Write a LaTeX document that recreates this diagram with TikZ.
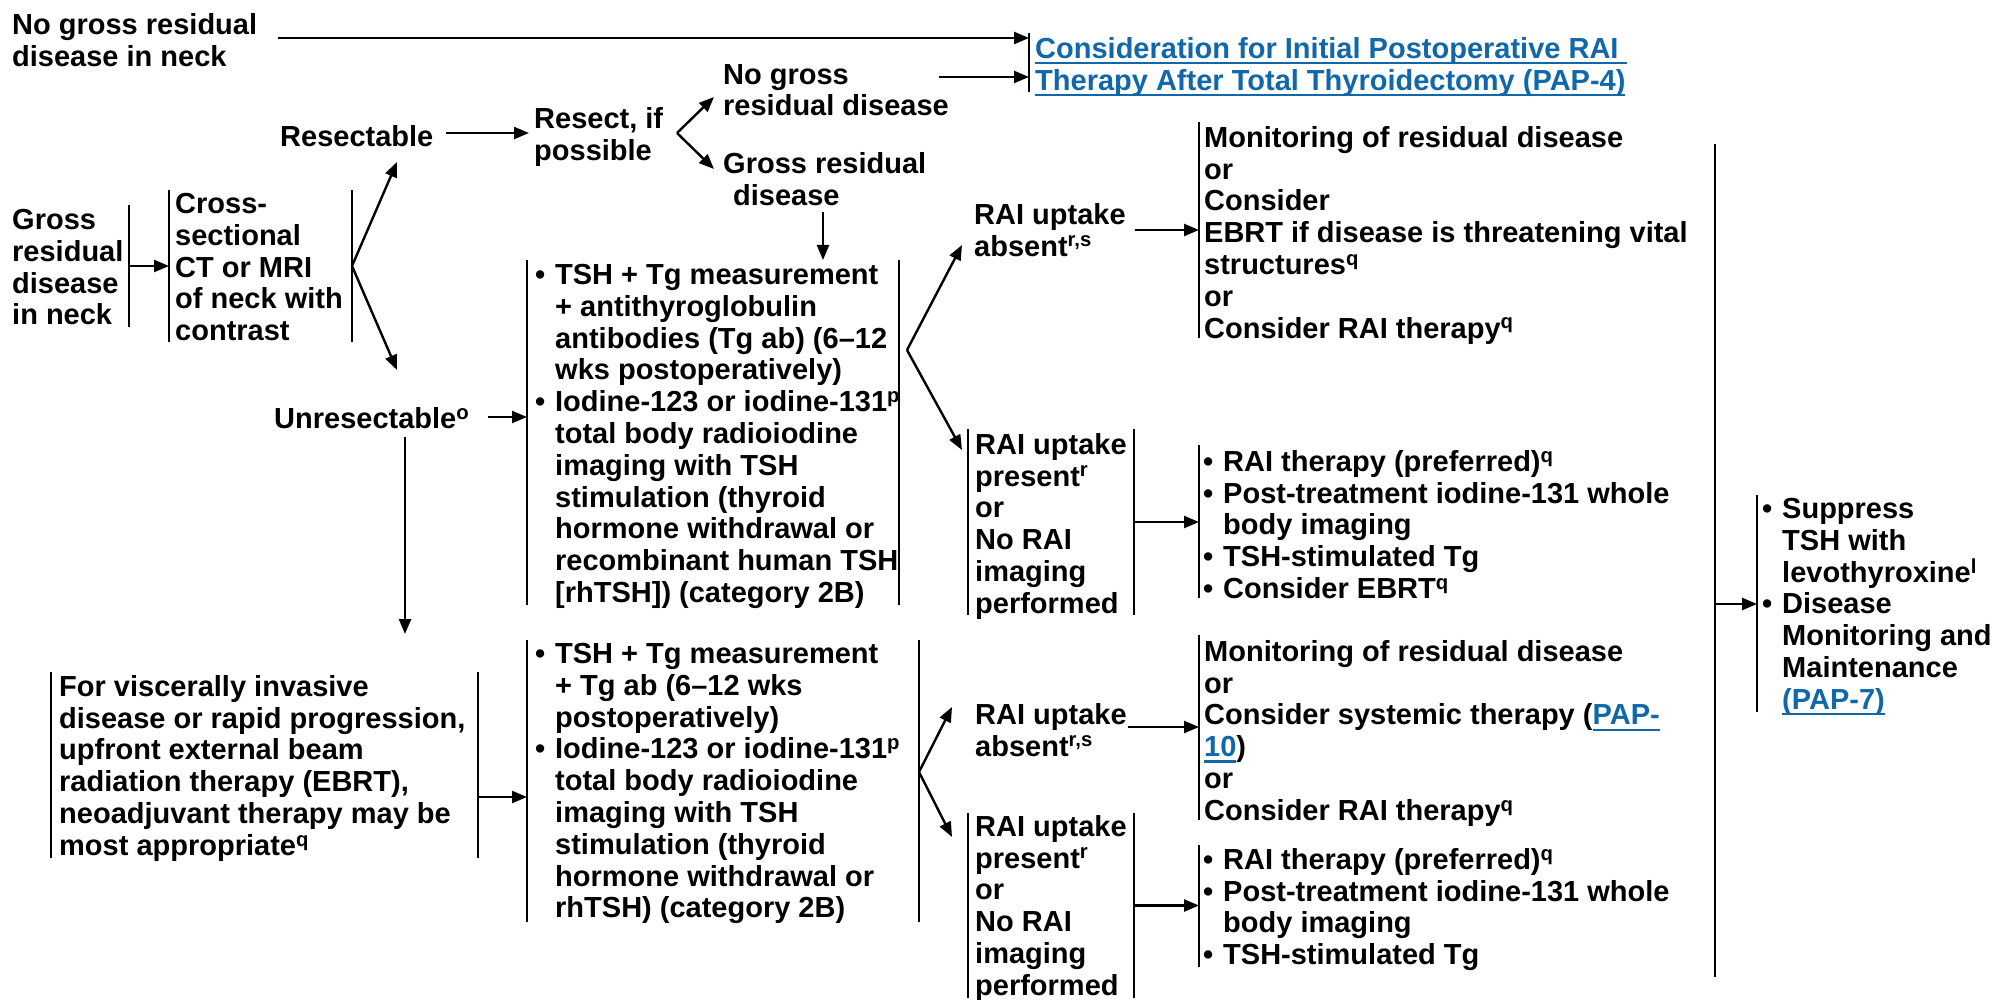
\documentclass[tikz,border=0pt]{standalone}
\usepackage{fontspec}
\setmainfont{Liberation Sans}
\usetikzlibrary{arrows.meta}
\definecolor{linkblue}{RGB}{16,104,170}
% bullet column and hanging indent for list items
\newcommand\bl{\makebox[20pt][l]{\textbullet}}
\newcommand\ind{\hspace*{20pt}}
% footnote marks that do not disturb the line spacing
\newcommand\fn[1]{\smash{\textsuperscript{#1}}}
% underlined blue cross-reference
\newcommand\weblink[1]{{\color{linkblue}\setbox0\hbox{#1}\rlap{\rule[-6pt]{\wd0}{2.2pt}}\box0}}
\begin{document}
\begin{tikzpicture}[x=1pt,y=-1pt,
  txt/.style={anchor=north west, inner sep=0pt, align=left, yshift=-3pt,
    font=\fontsize{29}{31.8}\selectfont\bfseries, execute at begin node={\strut}},
  panel/.style 2 args={anchor=north west, inner sep=0pt, outer sep=0pt,
    minimum width=#1, minimum height=#2},
  bar/.style={line width=2.4pt},
  arr/.style={line width=2.4pt, -{Triangle[length=15pt,width=12pt]}}]

\fill[white] (0,0) rectangle (1997,1000);
\useasboundingbox (0,0) rectangle (1997,1000);

\newcommand\lbar[1]{\draw[bar] (#1.north west) -- (#1.south west);}
\newcommand\rbar[1]{\draw[bar] (#1.north east) -- (#1.south east);}

% ---------- panels (vertical rules) ----------
\node[panel={117pt}{122pt}] (fGross) at (12,205) {};
\node[panel={183pt}{152pt}] (fCT) at (169,190) {};
\node[panel={600pt}{59pt}] (fLink) at (1029,33) {};
\node[panel={372pt}{345pt}] (fTsh1) at (527,260) {};
\node[panel={490pt}{216pt}] (fMon1) at (1199,122) {};
\node[panel={166pt}{186pt}] (fPres1) at (968,429) {};
\node[panel={490pt}{153pt}] (fRai1) at (1199,445) {};
\node[panel={0pt}{833pt}] (bracket) at (1715,144) {};
\node[panel={235pt}{217pt}] (fFinal) at (1757,495) {};
\node[panel={427pt}{186pt}] (fVisc) at (51,672) {};
\node[panel={392pt}{282pt}] (fTsh2) at (527,640) {};
\node[panel={490pt}{185pt}] (fMon2) at (1199,635) {};
\node[panel={166pt}{185pt}] (fPres2) at (968,813) {};
\node[panel={490pt}{122pt}] (fRai2) at (1199,845) {};

\rbar{fGross}
\lbar{fCT}\rbar{fCT}
\lbar{fLink}
\lbar{fTsh1}\rbar{fTsh1}
\lbar{fMon1}
\lbar{fPres1}\rbar{fPres1}
\lbar{fRai1}
\lbar{bracket}
\lbar{fFinal}
\lbar{fVisc}\rbar{fVisc}
\lbar{fTsh2}\rbar{fTsh2}
\lbar{fMon2}
\lbar{fPres2}\rbar{fPres2}
\lbar{fRai2}

% ---------- texts ----------
\node[txt] (noneck) at (12,10) {No gross residual\\disease in neck};
\node[txt] (link) at (1035,34) {\weblink{Consideration for Initial Postoperative RAI }\\\weblink{Therapy After Total Thyroidectomy (PAP-4)}};
\node[txt] (nogross) at (723,61) {No gross\\residual disease};
\node[txt] (resectable) at (280,121) {Resectable};
\node[txt] (resect) at (534,104) {Resect, if\\possible};
\node[txt] (grossres) at (723,149) {Gross residual\\\hspace*{10pt}disease};
\node[txt] (grossneck) at (12,206) {Gross\\residual\\disease\\in neck};
\node[txt] (ct) at (175,190) {Cross-\\sectional\\CT or MRI\\of neck with\\contrast};
\node[txt] (unres) at (274,403) {Unresectable\fn{o}};
\node[txt] (tsh1) at (535,261) {\bl TSH + Tg measurement\\\ind + antithyroglobulin\\\ind antibodies (Tg ab) (6–12\\\ind wks postoperatively)\\\bl Iodine-123 or iodine-131\fn{p}\\\ind total body radioiodine\\\ind imaging with TSH\\\ind stimulation (thyroid\\\ind hormone withdrawal or\\\ind recombinant human TSH\\\ind [rhTSH]) (category 2B)};
\node[txt] (absent1) at (974,200) {RAI uptake\\absent\fn{r,s}};
\node[txt] (mon1) at (1204,123) {Monitoring of residual disease\\or\\Consider\\EBRT if disease is threatening vital\\structures\fn{q}\\or\\Consider RAI therapy\fn{q}};
\node[txt] (present1) at (975,430) {RAI uptake\\present\fn{r}\\or\\No RAI\\imaging\\performed};
\node[txt] (rai1) at (1203,447) {\bl RAI therapy (preferred)\fn{q}\\\bl Post-treatment iodine-131 whole\\\ind body imaging\\\bl TSH-stimulated Tg\\\bl Consider EBRT\fn{q}};
\node[txt] (final) at (1762,495) {\bl Suppress\\\ind TSH with\\\ind levothyroxine\fn{l}\\\bl Disease\\\ind Monitoring and\\\ind Maintenance\\\ind \weblink{(PAP-7)}};
\node[txt] (visc) at (59,672) {For viscerally invasive\\disease or rapid progression,\\upfront external beam\\radiation therapy (EBRT),\\neoadjuvant therapy may be\\most appropriate\fn{q}};
\node[txt] (tsh2) at (535,640) {\bl TSH + Tg measurement\\\ind + Tg ab (6–12 wks\\\ind postoperatively)\\\bl Iodine-123 or iodine-131\fn{p}\\\ind total body radioiodine\\\ind imaging with TSH\\\ind stimulation (thyroid\\\ind hormone withdrawal or\\\ind rhTSH) (category 2B)};
\node[txt] (absent2) at (975,700) {RAI uptake\\absent\fn{r,s}};
\node[txt] (mon2) at (1204,637) {Monitoring of residual disease\\or\\Consider systemic therapy (\weblink{PAP-}\\\weblink{10})\\or\\Consider RAI therapy\fn{q}};
\node[txt] (present2) at (975,812) {RAI uptake\\present\fn{r}\\or\\No RAI\\imaging\\performed};
\node[txt] (rai2) at (1203,845) {\bl RAI therapy (preferred)\fn{q}\\\bl Post-treatment iodine-131 whole\\\ind body imaging\\\bl TSH-stimulated Tg};

% ---------- connector end points ----------
\coordinate (a1) at (278,38);
\coordinate (a2) at (939,77);
\coordinate (a3) at (446,133);
\coordinate (a3e) at (529,133);
\coordinate (k1) at (677,133);
\coordinate (k1a) at (714,97);
\coordinate (k1b) at (714,169);
\coordinate (a5) at (823,212);
\coordinate (k2a) at (397,162);
\coordinate (k2b) at (397,370);
\coordinate (a8) at (488,417);
\coordinate (a9) at (405,437);
\coordinate (a9e) at (405,634);
\coordinate (k3) at (907,350);
\coordinate (k3a) at (962,245);
\coordinate (k3b) at (962,450);
\coordinate (a11) at (1135,230);
\coordinate (a13) at (1715,604);
\coordinate (a14) at (478,797);
\coordinate (k4) at (919,772);
\coordinate (k4a) at (952,707);
\coordinate (k4b) at (952,837);
\coordinate (a16) at (1128,727);

% ---------- connectors ----------
\draw[arr] (a1) -- (a1 -| fLink.west);
\draw[arr] (a2) -- (a2 -| fLink.west);
\draw[arr] (a3) -- (a3e);
\draw[arr] (k1) -- (k1a);
\draw[arr] (k1) -- (k1b);
\draw[arr] (a5) -- (a5 |- fTsh1.north);
\draw[arr] (fGross.east) -- (fGross.east -| fCT.west);
\draw[arr] (fCT.east) -- (k2a);
\draw[arr] (fCT.east) -- (k2b);
\draw[arr] (a8) -- (a8 -| fTsh1.west);
\draw[arr] (a9) -- (a9e);
\draw[arr] (k3) -- (k3a);
\draw[arr] (k3) -- (k3b);
\draw[arr] (a11) -- (a11 -| fMon1.west);
\draw[arr] (fPres1.east) -- (fPres1.east -| fRai1.west);
\draw[arr] (a13) -- (a13 -| fFinal.west);
\draw[arr] (a14) -- (a14 -| fTsh2.west);
\draw[arr] (k4) -- (k4a);
\draw[arr] (k4) -- (k4b);
\draw[arr] (a16) -- (a16 -| fMon2.west);
\draw[arr] (fPres2.east) -- (fPres2.east -| fRai2.west);
\end{tikzpicture}
\end{document}
